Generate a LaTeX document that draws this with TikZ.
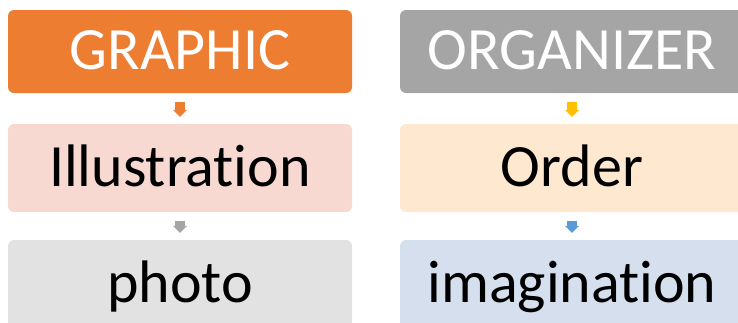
\documentclass[tikz,border=0pt]{standalone}
\usepackage{fontspec}
\setmainfont[Ligatures={NoCommon}]{Carlito}
\usetikzlibrary{arrows.meta}
\definecolor{hdorange}{HTML}{ED7D31}
\definecolor{hdgray}{HTML}{A5A5A5}
\definecolor{lightpink}{HTML}{F8D9D1}
\definecolor{lightgray}{HTML}{E2E2E2}
\definecolor{lightpeach}{HTML}{FFE8D0}
\definecolor{lightblue}{HTML}{D5DFEE}
\definecolor{arrgold}{HTML}{FFC000}
\definecolor{arrblue}{HTML}{5B9BD5}
\tikzset{
  card/.style={rounded corners=6pt, minimum width=344pt, inner sep=0pt,
    font=\fontsize{60}{72}\selectfont, text height=42pt, text depth=6pt},
  headcard/.style={card, fill=#1, text=white, minimum height=83pt},
  bodycard/.style={card, fill=#1, text=black, minimum height=88pt},
  blockarrow/.style={draw=#1, line width=10pt, shorten <=9pt, shorten >=7pt,
    -{Triangle[length=7pt, width=14pt]}}
}
\begin{document}
\begin{tikzpicture}[x=1pt, y=-1pt]
  \useasboundingbox (0,0) rectangle (738,322);
  \clip (0,0) rectangle (738,322);
  % left column
  \node[headcard=hdorange] (graphic) at (180,51.5) {GRAPHIC};
  \node[bodycard=lightpink] (illus) at (180,168) {Illustration};
  \node[bodycard=lightgray] (photo) at (180,284) {photo};
  % right column
  \node[headcard=hdgray] (organizer) at (572,51.5) {ORGANIZER};
  \node[bodycard=lightpeach] (order) at (572,168) {Order};
  \node[bodycard=lightblue] (imag) at (572,284) {imagination};
  % arrows between the cards
  \draw[blockarrow=hdorange] (graphic.south) -- (illus.north);
  \draw[blockarrow=hdgray] (illus.south) -- (photo.north);
  \draw[blockarrow=arrgold] (organizer.south) -- (order.north);
  \draw[blockarrow=arrblue] (order.south) -- (imag.north);
\end{tikzpicture}
\end{document}
